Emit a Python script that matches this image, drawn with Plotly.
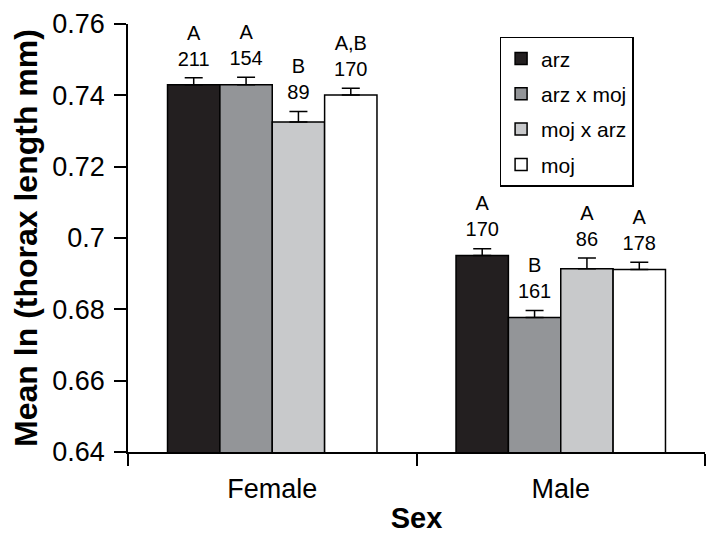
import plotly.graph_objects as go

sexes = ["Female", "Male"]
groups = ["arz", "arz x moj", "moj x arz", "moj"]
means = {
    "arz": [0.7430, 0.6951],
    "arz x moj": [0.7430, 0.6777],
    "moj x arz": [0.7325, 0.6914],
    "moj": [0.7401, 0.6912],
}
errors = {
    "arz": [0.0019, 0.0019],
    "arz x moj": [0.0021, 0.0020],
    "moj x arz": [0.0030, 0.0030],
    "moj": [0.0019, 0.0020],
}
letters = {
    "arz": ["A", "A"],
    "arz x moj": ["A", "B"],
    "moj x arz": ["B", "A"],
    "moj": ["A,B", "A"],
}
counts = {
    "arz": [211, 170],
    "arz x moj": [154, 161],
    "moj x arz": [89, 86],
    "moj": [170, 178],
}
colors = {
    "arz": "#231f20",
    "arz x moj": "#939598",
    "moj x arz": "#c8c9cb",
    "moj": "#ffffff",
}
y_ticks = [0.64, 0.66, 0.68, 0.70, 0.72, 0.74, 0.76]
y_tick_labels = ["0.64", "0.66", "0.68", "0.7", "0.72", "0.74", "0.76"]

FONT = "Liberation Sans, Arial, Helvetica, sans-serif"

fig = go.Figure()
for g in groups:
    fig.add_trace(go.Bar(
        x=sexes, y=means[g], name=g, offsetgroup=g, legendgroup=g,
        marker=dict(color=colors[g], line=dict(color="black", width=1.5)),
        error_y=dict(type="data", array=errors[g], arrayminus=[0, 0],
                     symmetric=False, color="black", thickness=1.5, width=9),
    ))
for g in groups:
    tops = [m + e for m, e in zip(means[g], errors[g])]
    fig.add_trace(go.Scatter(
        x=sexes, y=tops, mode="markers+text", offsetgroup=g, showlegend=False,
        marker=dict(size=10, opacity=0),
        text=[f"{l}<br>{c}" for l, c in zip(letters[g], counts[g])],
        textposition="top center",
        textfont=dict(size=20, color="black", family=FONT),
        hoverinfo="skip",
    ))

fig.update_layout(
    width=698, height=526,
    margin=dict(l=120, r=1, t=16, b=82),
    plot_bgcolor="white", paper_bgcolor="white",
    barmode="group", bargap=0.274, bargroupgap=0,
    scattermode="group", scattergap=0.274,
    font=dict(family=FONT, color="black"),
    legend=dict(
        x=0.644, y=0.97, xanchor="left", yanchor="top",
        bordercolor="black", borderwidth=1.5, bgcolor="white",
        font=dict(size=21, family=FONT), tracegroupgap=5,
    ),
    showlegend=True,
)
fig.update_xaxes(
    showline=True, linecolor="black", linewidth=1.5,
    ticks="outside", tickson="boundaries", ticklen=12, tickwidth=1.5, tickcolor="black",
    tickfont=dict(size=27, family=FONT), ticklabelstandoff=12,
    title=dict(text="<b>Sex</b>", font=dict(size=29, family=FONT), standoff=6),
    showgrid=False, automargin=False,
)
fig.update_yaxes(
    range=[0.64, 0.76], tickvals=y_ticks, ticktext=y_tick_labels,
    showline=True, linecolor="black", linewidth=1.5,
    ticks="outside", ticklen=12, tickwidth=1.5, tickcolor="black",
    tickfont=dict(size=27, family=FONT), ticklabelstandoff=4,
    ticklabeloverflow="allow",
    title=dict(text="<b>Mean ln (thorax length mm)</b>", font=dict(size=32, family=FONT), standoff=16),
    showgrid=False, zeroline=False, automargin=False,
)

fig.write_html("out.html")
